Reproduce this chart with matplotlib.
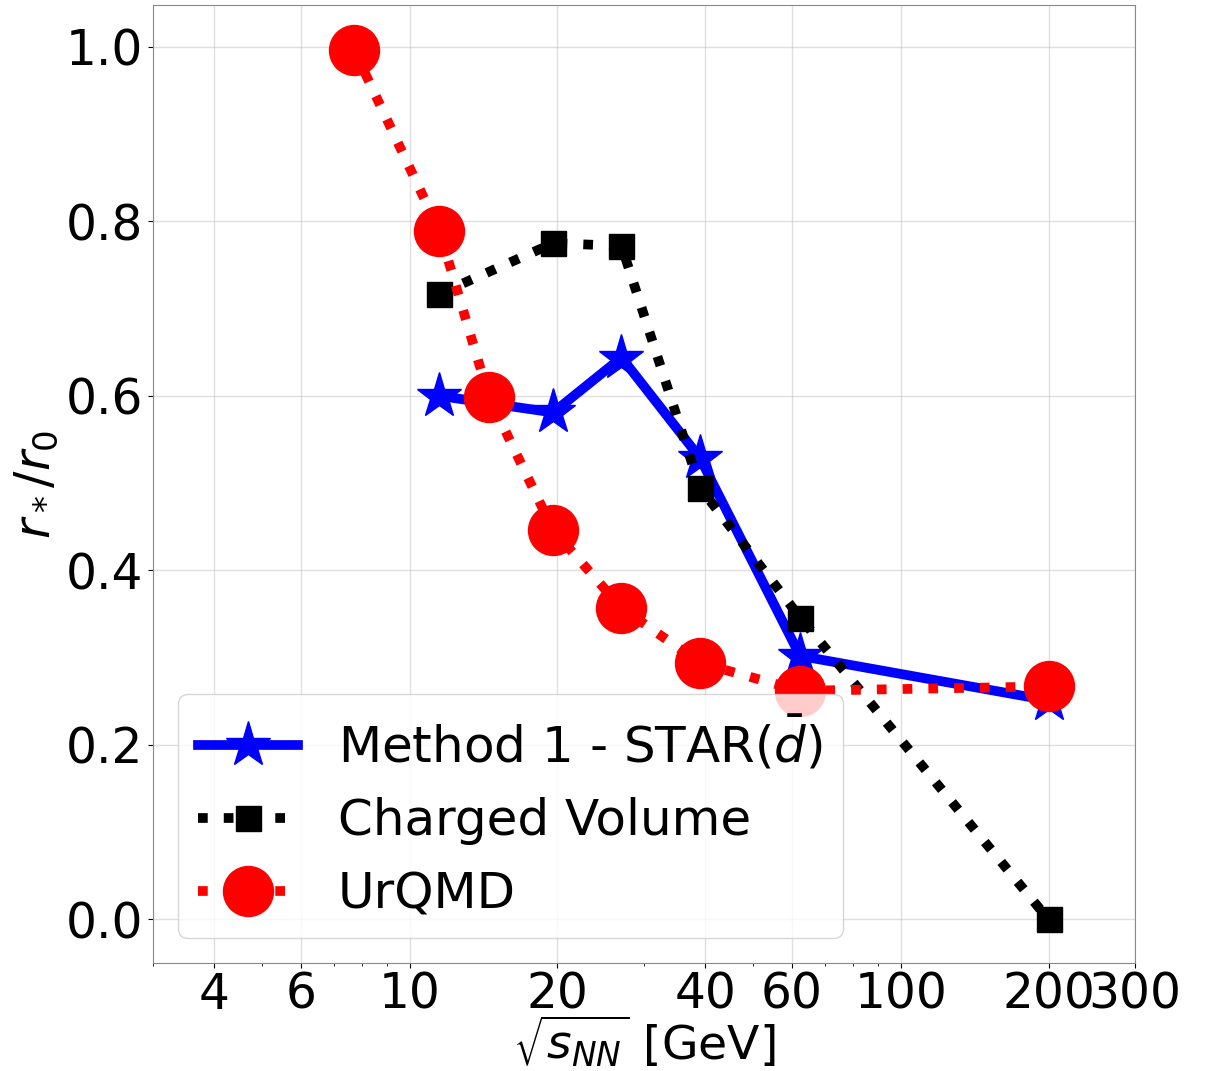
import matplotlib
matplotlib.use("Agg")
import matplotlib.pyplot as plt
from matplotlib.ticker import ScalarFormatter, NullFormatter

# energies (GeV)
x_star = [11.5, 19.6, 27, 39, 62.4, 200]
y_star = [0.600, 0.581, 0.644, 0.529, 0.302, 0.251]

x_vol = [11.5, 19.6, 27, 39, 62.4, 200]
y_vol = [0.717, 0.775, 0.772, 0.495, 0.346, 0.0]

x_urqmd = [7.7, 11.5, 14.5, 19.6, 27, 39, 62.4, 200]
y_urqmd = [0.997, 0.789, 0.599, 0.446, 0.357, 0.294, 0.262, 0.267]

xticks = [4, 6, 10, 20, 40, 60, 100, 200, 300]

plt.rcParams.update({"font.size": 35})
fig = plt.figure(figsize=(12.1, 10.71), dpi=100)
ax = fig.add_axes([0.1264, 0.1008, 0.8116, 0.8945])

ax.plot(x_star, y_star, color="blue", ls="-", lw=7, marker="*", ms=34,
        label=r"Method 1 - STAR($\bar{d}$)")
ax.plot(x_vol, y_vol, color="black", ls=":", lw=7, marker="s", ms=18,
        label="Charged Volume")
ax.plot(x_urqmd, y_urqmd, color="red", ls=":", lw=7, marker="o", ms=36,
        label="UrQMD")

ax.set_xscale("log")
ax.set_xlim(3, 300)
ax.set_ylim(-0.05, 1.048)
ax.set_xticks(xticks)
ax.tick_params(axis="x", pad=2)
ax.xaxis.set_major_formatter(ScalarFormatter())
ax.xaxis.set_minor_formatter(NullFormatter())
ax.set_yticks([0.0, 0.2, 0.4, 0.6, 0.8, 1.0])
ax.grid(True, color="#b0b0b0", alpha=0.4, lw=1)
for s in ax.spines.values():
    s.set_color("#888888")

ax.set_xlabel(r"$\sqrt{s_{NN}}$ [GeV]", fontsize=34, labelpad=-3)
ax.set_ylabel(r"$r_*/r_0$", labelpad=4)
ax.legend(loc="lower left", fontsize=36, handlelength=2.0)

fig.savefig("out.png")
